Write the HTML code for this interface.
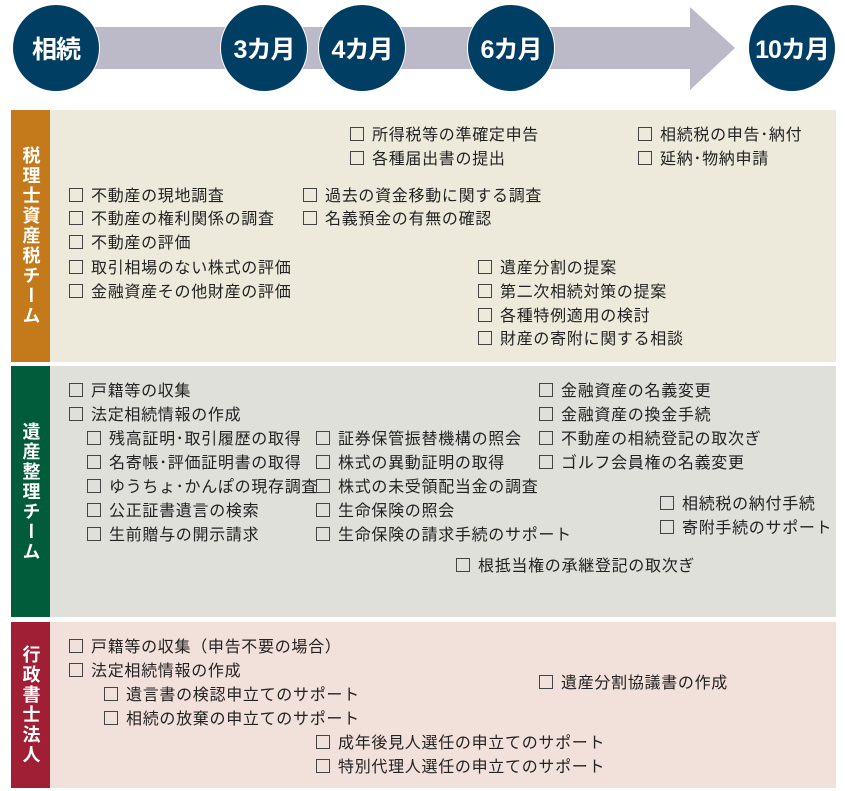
<!DOCTYPE html>
<html><head><meta charset="utf-8"><style>
body{margin:0;width:845px;height:791px;background:#fff;position:relative;overflow:hidden;font-family:"Liberation Sans","Noto Sans CJK JP",sans-serif;}
.c{position:absolute;width:88px;height:88px;border-radius:50%;background:#003e63;border:1.5px solid #fff;box-sizing:border-box;color:#fff;font-weight:bold;font-size:25px;display:flex;align-items:center;justify-content:center;letter-spacing:-1px}
.p{position:absolute;left:11px;width:825px}
.bar{position:absolute;left:0;top:0;bottom:0;width:39px;display:flex;align-items:center;justify-content:center}
.bar span{writing-mode:vertical-rl;color:#fff;font-weight:bold;font-size:18px;letter-spacing:2px}
.i{position:absolute;font-size:16px;letter-spacing:0.7px;color:#222;white-space:nowrap;line-height:20px;transform:translateY(-9px)}
.i:before{content:"";display:inline-block;width:12px;height:12px;border:1px solid #444;margin-right:8px;vertical-align:-1px}
</style></head><body>
<svg style="position:absolute;left:0;top:0" width="845" height="100">
<polygon points="56,27 690,27 690,7 735,48 690,90 690,69 56,69" fill="#bcbac8"/>
</svg>
<div class="c" style="left:12px;top:4px">相続</div>
<div class="c" style="left:220px;top:4px">3カ月</div>
<div class="c" style="left:318px;top:4px">4カ月</div>
<div class="c" style="left:467px;top:4px">6カ月</div>
<div class="c" style="left:748px;top:4px">10カ月</div>

<div class="p" style="top:110px;height:252px;background:#eeeadb"><div class="bar" style="background:#c47a1b"><span>税理士資産税チーム</span></div></div>
<div class="p" style="top:366px;height:251px;background:#dfe0da"><div class="bar" style="background:#005c3a"><span>遺産整理チーム</span></div></div>
<div class="p" style="top:622px;height:166px;background:#f2e0da"><div class="bar" style="background:#a01f34"><span>行政書士法人</span></div></div>

<div class="i" style="left:350px;top:135px">所得税等の準確定申告</div>
<div class="i" style="left:350px;top:159px">各種届出書の提出</div>
<div class="i" style="left:638px;top:135px">相続税の申告･納付</div>
<div class="i" style="left:638px;top:159px">延納･物納申請</div>
<div class="i" style="left:69px;top:196px">不動産の現地調査</div>
<div class="i" style="left:303px;top:196px">過去の資金移動に関する調査</div>
<div class="i" style="left:69px;top:219px">不動産の権利関係の調査</div>
<div class="i" style="left:303px;top:219px">名義預金の有無の確認</div>
<div class="i" style="left:69px;top:243px">不動産の評価</div>
<div class="i" style="left:69px;top:268px">取引相場のない株式の評価</div>
<div class="i" style="left:478px;top:268px">遺産分割の提案</div>
<div class="i" style="left:69px;top:292px">金融資産その他財産の評価</div>
<div class="i" style="left:478px;top:292px">第二次相続対策の提案</div>
<div class="i" style="left:478px;top:316px">各種特例適用の検討</div>
<div class="i" style="left:478px;top:339px">財産の寄附に関する相談</div>

<div class="i" style="left:69px;top:391px">戸籍等の収集</div>
<div class="i" style="left:539px;top:391px">金融資産の名義変更</div>
<div class="i" style="left:69px;top:415px">法定相続情報の作成</div>
<div class="i" style="left:539px;top:415px">金融資産の換金手続</div>
<div class="i" style="left:87px;top:439px">残高証明･取引履歴の取得</div>
<div class="i" style="left:316px;top:439px">証券保管振替機構の照会</div>
<div class="i" style="left:539px;top:439px">不動産の相続登記の取次ぎ</div>
<div class="i" style="left:87px;top:463px">名寄帳･評価証明書の取得</div>
<div class="i" style="left:316px;top:463px">株式の異動証明の取得</div>
<div class="i" style="left:539px;top:463px">ゴルフ会員権の名義変更</div>
<div class="i" style="left:87px;top:487px">ゆうちょ･かんぽの現存調査</div>
<div class="i" style="left:316px;top:487px">株式の未受領配当金の調査</div>
<div class="i" style="left:87px;top:511px">公正証書遺言の検索</div>
<div class="i" style="left:316px;top:511px">生命保険の照会</div>
<div class="i" style="left:660px;top:504px">相続税の納付手続</div>
<div class="i" style="left:660px;top:528px">寄附手続のサポート</div>
<div class="i" style="left:87px;top:535px">生前贈与の開示請求</div>
<div class="i" style="left:316px;top:535px">生命保険の請求手続のサポート</div>
<div class="i" style="left:456px;top:566px">根抵当権の承継登記の取次ぎ</div>

<div class="i" style="left:69px;top:647px">戸籍等の収集（申告不要の場合）</div>
<div class="i" style="left:69px;top:671px">法定相続情報の作成</div>
<div class="i" style="left:539px;top:683px">遺産分割協議書の作成</div>
<div class="i" style="left:104px;top:695px">遺言書の検認申立てのサポート</div>
<div class="i" style="left:104px;top:719px">相続の放棄の申立てのサポート</div>
<div class="i" style="left:316px;top:743px">成年後見人選任の申立てのサポート</div>
<div class="i" style="left:316px;top:767px">特別代理人選任の申立てのサポート</div>
</body></html>
